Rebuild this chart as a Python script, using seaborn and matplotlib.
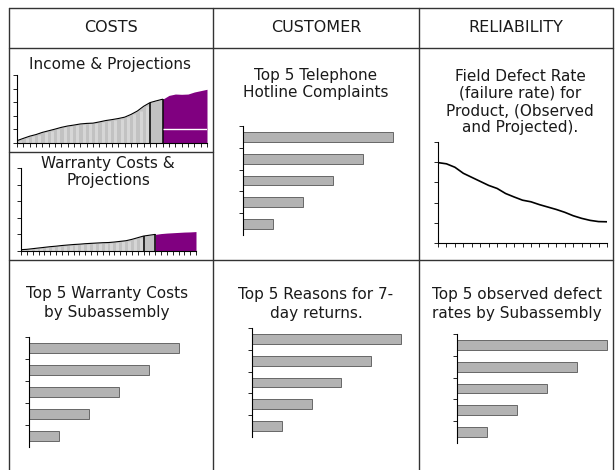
import matplotlib
matplotlib.use("Agg")
import matplotlib.pyplot as plt
import pandas as pd
import seaborn as sns

W, H = 615, 470

# header row
sections = ["COSTS", "CUSTOMER", "RELIABILITY"]

# monthly income / warranty cost, observed up to month 21, projected from 23
months = list(range(31))
income = [0.17, 0.34, 0.50, 0.62, 0.78, 0.90, 1.02, 1.15, 1.25, 1.32, 1.40,
          1.44, 1.46, 1.55, 1.65, 1.72, 1.80, 1.90, 2.10, 2.35, 2.70, 2.97,
          3.10, 3.22, 3.50, 3.60, 3.58, 3.60, 3.75, 3.85, 3.95]
warranty = [0.08, 0.10, 0.14, 0.18, 0.22, 0.26, 0.29, 0.33, 0.36, 0.39, 0.41,
            0.44, 0.46, 0.48, 0.50, 0.51, 0.54, 0.58, 0.62, 0.70, 0.80, 0.90,
            0.95, 1.00, 1.05, 1.08, 1.10, 1.12, 1.14, 1.15, 1.17]
income_target = 1.0
actual_end = 21
projection_start = 23

# field defect rate, observed and projected
periods = list(range(21))
defect_rate = [3.98, 3.92, 3.75, 3.45, 3.25, 3.05, 2.85, 2.70, 2.45, 2.28, 2.12,
               2.04, 1.90, 1.78, 1.66, 1.52, 1.35, 1.22, 1.12, 1.06, 1.05]

# top 5 lists
ranks = ["1", "2", "3", "4", "5"]
hotline_complaints = [5, 4, 3, 2, 1]
warranty_by_subassembly = [5, 4, 3, 2, 1]
return_reasons = [5, 4, 3, 2, 1]
defect_by_subassembly = [5, 4, 3, 2, 1]

sns.set_style("ticks")
plt.rcParams["font.family"] = ["DejaVu Sans"]

fig = plt.figure(figsize=(W / 100, H / 100), dpi=100)
fig.patch.set_facecolor("white")


def px_axes(left, top, right, bottom):
    return fig.add_axes([left / W, 1 - bottom / H, (right - left) / W, (bottom - top) / H])


def px_text(x, y, s, size=11, spacing=1.18):
    fig.text(x / W, 1 - y / H, s, ha="center", va="center", fontsize=size,
             color="#1a1a1a", linespacing=spacing)


def style_axes(ax):
    sns.despine(ax=ax)
    for side in ["left", "bottom"]:
        ax.spines[side].set_color("black")
        ax.spines[side].set_linewidth(0.8)
    ax.tick_params(length=3, width=0.6, color="black", labelleft=False, labelbottom=False)
    ax.set_xlabel("")
    ax.set_ylabel("")
    ax.set_facecolor("none")


def cost_chart(ax, values, target=None):
    df = pd.DataFrame({"month": months, "value": values})
    obs = df[df.month <= projection_start]
    proj = df[df.month >= projection_start]
    ax.fill_between(obs.month, 0, obs.value, color="#c2c2c2", lw=0)
    stripes = obs[obs.month < actual_end]
    ax.vlines(stripes.month + 0.5, 0, stripes.value, color="#d6d6d6", lw=2.2)
    ax.fill_between(proj.month, 0, proj.value, color="#800080", lw=0)
    sns.lineplot(data=obs, x="month", y="value", color="black", lw=0.8, ax=ax)
    ax.vlines([actual_end, projection_start], 0,
              [values[actual_end], values[projection_start]], color="black", lw=1.1)
    if target is not None:
        ax.hlines(target, projection_start, months[-1], color="white", lw=1)
    ax.set_xlim(0, 30)
    ax.set_ylim(0, 5)
    ax.set_xticks(months)
    ax.set_yticks(range(6))
    style_axes(ax)


def top5_chart(ax, values):
    df = pd.DataFrame({"rank": ranks, "value": values})
    sns.barplot(data=df, x="value", y="rank", orient="h", color="#b3b3b3",
                saturation=1, width=0.45, edgecolor="#555555", linewidth=0.6, ax=ax)
    for p in ax.patches:
        p.set_clip_on(False)
    ax.set_xlim(0, 5)
    ax.set_ylim(4.5, -0.5)
    ax.set_yticks([-0.5, 0.5, 1.5, 2.5, 3.5])
    style_axes(ax)
    ax.spines["bottom"].set_visible(False)
    ax.tick_params(axis="x", bottom=False)


# table grid
bg = fig.add_axes([0, 0, 1, 1])
bg.set_xlim(0, W)
bg.set_ylim(H, 0)
bg.axis("off")
grid = dict(color="#333333", lw=1.0)
for y in [8, 48, 260]:
    bg.plot([9, 613], [y, y], **grid)
bg.plot([9, 213], [152, 152], **grid)
for x in [9, 213, 419, 613]:
    bg.plot([x, x], [8, H], **grid)

for x, s in zip([111, 316, 516], sections):
    px_text(x, 28, s, size=11.5)

# COSTS
px_text(110, 64, "Income & Projections")
cost_chart(px_axes(17, 75, 207, 143), income, income_target)
px_text(108, 172, "Warranty Costs &\nProjections")
cost_chart(px_axes(21, 168, 196, 251), warranty)

# CUSTOMER
px_text(316, 84, "Top 5 Telephone\nHotline Complaints")
top5_chart(px_axes(243, 126, 393, 235), hotline_complaints)

# RELIABILITY
px_text(520, 102, "Field Defect Rate\n(failure rate) for\nProduct, (Observed\nand Projected).")
ax = px_axes(438, 142, 607, 243)
sns.lineplot(x=periods, y=defect_rate, color="black", lw=1.2, ax=ax)
ax.set_xlim(0, 20)
ax.set_ylim(0, 5)
ax.set_xticks(periods)
ax.set_yticks(range(6))
style_axes(ax)

# second row
px_text(107, 303, "Top 5 Warranty Costs\nby Subassembly", spacing=1.31)
top5_chart(px_axes(29, 337, 179, 447), warranty_by_subassembly)
px_text(316, 304, "Top 5 Reasons for 7-\nday returns.", spacing=1.31)
top5_chart(px_axes(252, 328, 401, 437), return_reasons)
px_text(517, 304, "Top 5 observed defect\nrates by Subassembly", spacing=1.31)
top5_chart(px_axes(457, 334, 607, 443), defect_by_subassembly)

fig.savefig("out.png", dpi=100)
